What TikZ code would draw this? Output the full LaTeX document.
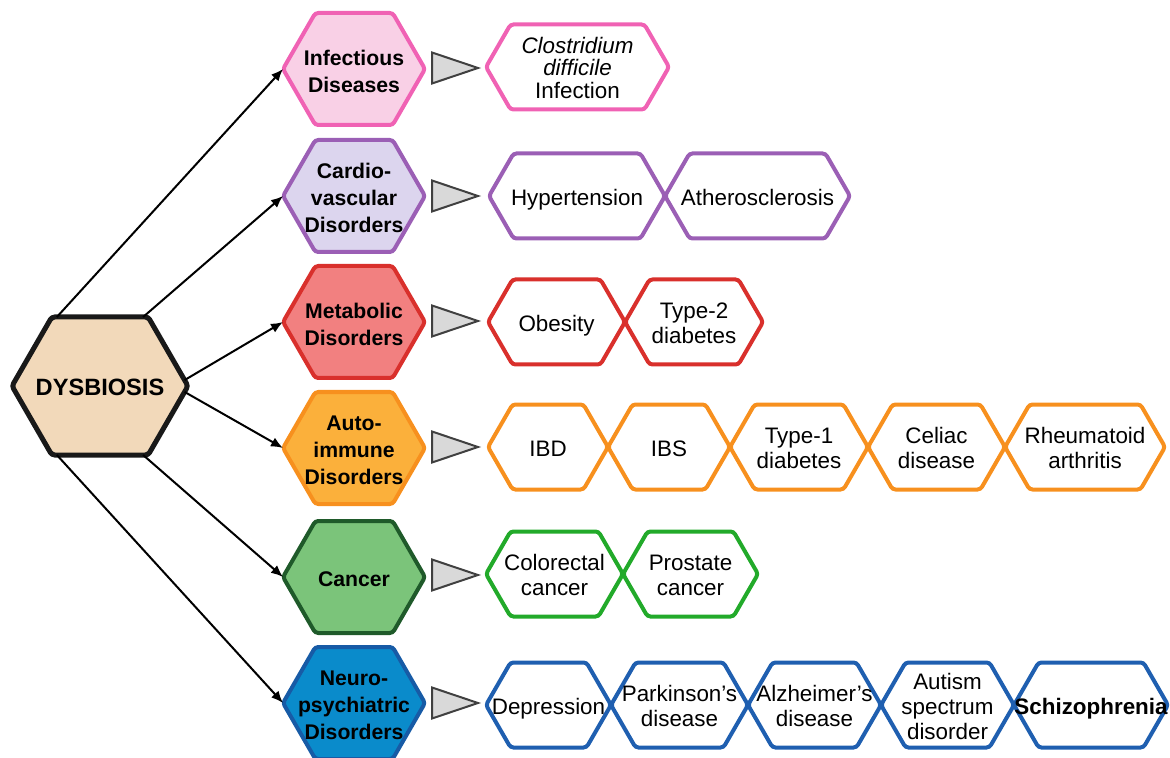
\documentclass[tikz,border=0pt]{standalone}
\usepackage{fontspec}
\setmainfont{Liberation Sans}
\usetikzlibrary{positioning,shapes.symbols,shapes.geometric,arrows.meta}

\definecolor{dysfill}{HTML}{F2D9BA}
\definecolor{pinkdraw}{HTML}{F062B4}
\definecolor{pinkfill}{HTML}{F9D0E6}
\definecolor{purpdraw}{HTML}{9B5FB5}
\definecolor{purpfill}{HTML}{DCD5EE}
\definecolor{reddraw}{HTML}{D9302C}
\definecolor{redfill}{HTML}{F28080}
\definecolor{orgdraw}{HTML}{F7901E}
\definecolor{orgfill}{HTML}{FBB03B}
\definecolor{grndraw}{HTML}{1F5A2A}
\definecolor{grnfill}{HTML}{7BC47A}
\definecolor{grnitem}{HTML}{22AA2A}
\definecolor{bludraw}{HTML}{175BA6}
\definecolor{blufill}{HTML}{0A8BCB}
\definecolor{bluitem}{HTML}{1F5FB0}

% text may run over the border, as in the figure
\newcommand{\lbl}[1]{\raisebox{-4.8pt}[0pt][0pt]{\makebox[0pt]{\begin{tabular}{@{}c@{}}#1\end{tabular}}}}

\begin{document}
\begin{tikzpicture}[x=0.5pt, y=-0.5pt]
		\tikzset{hex/.style={signal, signal to=east and west, signal pointer angle=120, draw, line width=2pt, rounded corners=1.5pt, inner sep=0pt, outer sep=0pt, minimum height=42.5pt, font=\fontsize{11.2}{12.5}\selectfont},
			grp/.style={hex, minimum width=71pt, minimum height=56pt, font=\bfseries\fontsize{10.6}{13.5}\selectfont},
			tri/.style={isosceles triangle, isosceles triangle stretches, draw=black!75, fill=black!15, line width=1pt, inner sep=0pt, outer sep=0pt, minimum width=15.5pt, minimum height=23pt, anchor=west},
			link/.style={-{Latex[length=6pt,width=5pt]}, line width=1pt}};

		\useasboundingbox (0,0) rectangle (1170,758);

		\node[hex, draw=black!90, fill=dysfill, line width=2.5pt, minimum width=88pt, minimum height=69pt, font=\bfseries\fontsize{11.8}{14}\selectfont] (dys) at (100,386) {\lbl{DYSBIOSIS}};

		\node[grp, draw=pinkdraw, fill=pinkfill] (inf) at (354,69) {\lbl{Infectious\\Diseases}};
		\node[grp, draw=purpdraw, fill=purpfill] (cvd) at (354,196) {\lbl{Cardio-\\vascular\\Disorders}};
		\node[grp, draw=reddraw, fill=redfill] (met) at (354,322) {\lbl{Metabolic\\Disorders}};
		\node[grp, draw=orgdraw, fill=orgfill] (aut) at (354,448) {\lbl{Auto-\\immune\\Disorders}};
		\node[grp, draw=grndraw, fill=grnfill] (can) at (354,577) {\lbl{Cancer}};
		\node[grp, draw=bludraw, fill=blufill] (neu) at (354,703) {\lbl{Neuro-\\psychiatric\\Disorders}};

		\node[tri] (t1) at (432,68) {};
		\node[tri] (t2) at (432,196) {};
		\node[tri] (t3) at (432,321) {};
		\node[tri] (t4) at (432,447) {};
		\node[tri] (t5) at (432,575) {};
		\node[tri] (t6) at (432,703) {};

		% infectious
		\node[hex, draw=pinkdraw, minimum width=91.5pt, anchor=west, font=\fontsize{11.2}{10.8}\selectfont] (cdi) at (486,67) {\lbl{\textit{Clostridium}\\\textit{difficile}\\Infection}};

		% cardiovascular
		\node[hex, draw=purpdraw, minimum width=88pt, anchor=west] (hyp) at (489,196) {\lbl{Hypertension}};
		\node[hex, draw=purpdraw, minimum width=92.5pt, right=0pt of hyp] (ath) {\lbl{Atherosclerosis}};

		% metabolic
		\node[hex, draw=reddraw, minimum width=68.5pt, anchor=west] (obe) at (488,322) {\lbl{Obesity}};
		\node[hex, draw=reddraw, minimum width=69pt, right=0pt of obe] (t2d) {\lbl{Type-2\\diabetes}};

		% autoimmune
		\node[hex, draw=orgdraw, minimum width=60pt, anchor=west] (ibd) at (488,447) {\lbl{IBD}};
		\node[hex, draw=orgdraw, minimum width=61pt, right=0pt of ibd] (ibs) {\lbl{IBS}};
		\node[hex, draw=orgdraw, minimum width=69pt, right=0pt of ibs] (t1d) {\lbl{Type-1\\diabetes}};
		\node[hex, draw=orgdraw, minimum width=68.5pt, right=0pt of t1d] (cel) {\lbl{Celiac\\disease}};
		\node[hex, draw=orgdraw, minimum width=80pt, right=0pt of cel] (rha) {\lbl{Rheumatoid\\arthritis}};

		% cancer
		\node[hex, draw=grnitem, minimum width=68.5pt, anchor=west] (col) at (486,574) {\lbl{Colorectal\\cancer}};
		\node[hex, draw=grnitem, minimum width=67.5pt, right=0pt of col] (pro) {\lbl{Prostate\\cancer}};

		% neuropsychiatric
		\node[hex, draw=bluitem, minimum width=62.5pt, anchor=west] (dep) at (486,705) {\lbl{Depression}};
		\node[hex, draw=bluitem, minimum width=68.5pt, right=0pt of dep] (par) {\lbl{Parkinson's\\disease}};
		\node[hex, draw=bluitem, minimum width=66.5pt, right=0pt of par] (alz) {\lbl{Alzheimer's\\disease}};
		\node[hex, draw=bluitem, minimum width=66.5pt, right=0pt of alz] (asd) {\lbl{Autism\\spectrum\\disorder}};
		\node[hex, draw=bluitem, minimum width=77pt, right=0pt of asd, font=\bfseries\fontsize{11.2}{12.5}\selectfont] (scz) {\lbl{Schizophrenia}};

		\draw[link] (dys.122) -- (inf.west);
		\draw[link] (dys.58) -- (cvd.west);
		\draw[link] (dys.4) -- (met.west);
		\draw[link] (dys.-4) -- (aut.west);
		\draw[link] (dys.-58) -- (can.west);
		\draw[link] (dys.-122) -- (neu.west);
	\end{tikzpicture}
\end{document}
